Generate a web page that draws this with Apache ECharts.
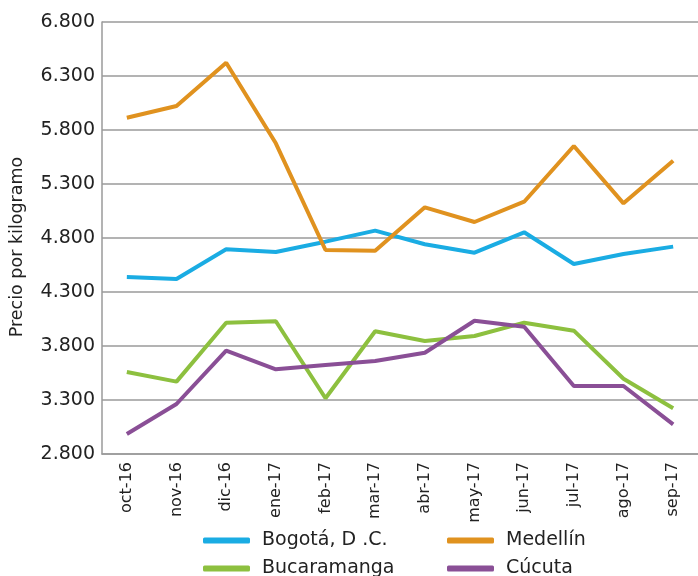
<!DOCTYPE html>
<html>
<head>
<meta charset="utf-8">
<script src="https://cdn.jsdelivr.net/npm/echarts@6/dist/echarts.min.js"></script>
<style>
  html, body { margin: 0; padding: 0; background: #fff; }
  #chart { width: 698px; height: 576px; }
</style>
</head>
<body>
<div id="chart"></div>
<script>
const months = ['oct-16', 'nov-16', 'dic-16', 'ene-17', 'feb-17', 'mar-17', 'abr-17', 'may-17', 'jun-17', 'jul-17', 'ago-17', 'sep-17']

const bogota = [4440, 4420, 4695, 4670, 4766, 4868, 4742, 4664, 4853, 4559, 4652, 4720]
const medellin = [5914, 6022, 6423, 5677, 4689, 4682, 5084, 4948, 5136, 5652, 5121, 5516]
const bucaramanga = [3559, 3470, 4016, 4029, 3316, 3936, 3846, 3893, 4016, 3942, 3497, 3223]
const cucuta = [2985, 3263, 3757, 3584, 3624, 3661, 3738, 4034, 3979, 3430, 3430, 3075]

const seriesNames = ['Bogotá, D .C.', 'Medellín', 'Bucaramanga', 'Cúcuta']
const colors = ['#1aace3', '#e0921f', '#8dc03f', '#8a4f96']

const font = 'DejaVu Sans'

function fmt(v) {
    return String(v).replace(/\B(?=(\d{3})+(?!\d))/g, '.')
}

// one legend per item so the two columns line up like the original
function legendAt(name, left, top) {
    return {
        data: [name],
        left: left,
        top: top,
        icon: 'roundRect',
        itemWidth: 47,
        itemHeight: 6,
        textStyle: { fontFamily: font, fontSize: 19, color: '#222', padding: [0, 0, 0, 7] }
    }
}

const chart = echarts.init(document.getElementById('chart'))

chart.setOption({
    animation: false,
    color: colors,
    grid: { left: 99, right: 0, top: 22, bottom: 122, containLabel: false },
    legend: [
        legendAt(seriesNames[0], 198, 526),
        legendAt(seriesNames[1], 442, 526),
        legendAt(seriesNames[2], 198, 554),
        legendAt(seriesNames[3], 442, 554)
    ],
    xAxis: {
        type: 'category',
        data: months,
        axisLine: { lineStyle: { color: '#9a9a9a', width: 1.5 } },
        axisTick: { show: false },
        axisLabel: {
            rotate: 90,
            interval: 0,
            margin: 8,
            fontFamily: font,
            fontSize: 16,
            color: '#222'
        }
    },
    yAxis: {
        type: 'value',
        min: 2800,
        max: 6800,
        interval: 500,
        name: 'Precio por kilogramo',
        nameLocation: 'middle',
        nameGap: 76,
        nameTextStyle: { fontFamily: font, fontSize: 17.5, color: '#222', padding: [0, 18, 0, 0] },
        axisLine: { show: true, lineStyle: { color: '#9a9a9a', width: 1.5 } },
        axisTick: { show: false },
        splitLine: { lineStyle: { color: '#9a9a9a', width: 1.5 } },
        axisLabel: {
            formatter: fmt,
            margin: 7,
            fontFamily: font,
            fontSize: 19,
            color: '#222'
        }
    },
    series: [bogota, medellin, bucaramanga, cucuta].map((data, i) => ({
        name: seriesNames[i],
        type: 'line',
        data: data,
        symbol: 'none',
        lineStyle: { width: 4, color: colors[i] },
        itemStyle: { color: colors[i] }
    }))
})
</script>
</body>
</html>
